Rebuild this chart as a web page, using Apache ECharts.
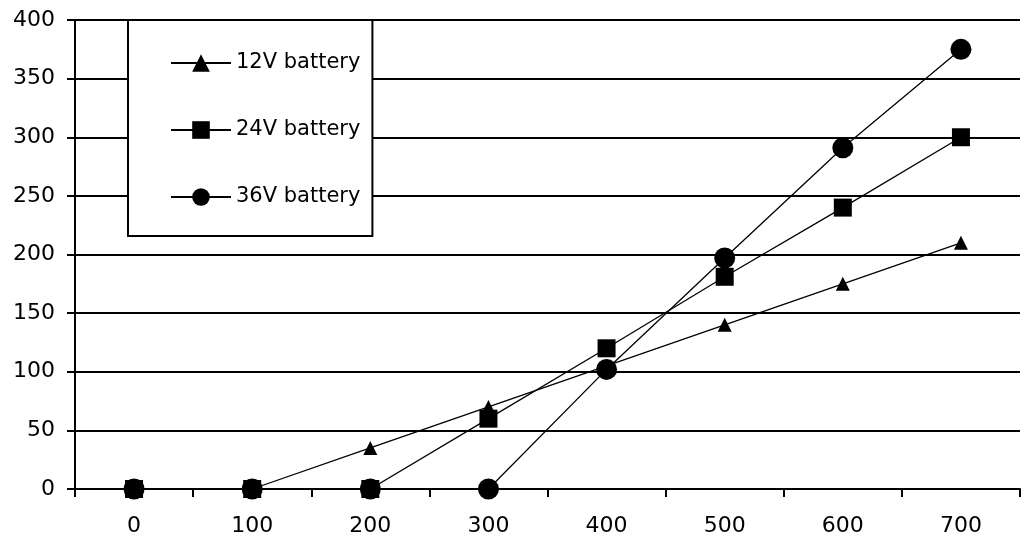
<!DOCTYPE html>
<html>
<head>
<meta charset="utf-8">
<script src="https://cdn.jsdelivr.net/npm/echarts@6/dist/echarts.min.js"></script>
<style>
  html, body { margin: 0; padding: 0; background: #fff; }
  #chart { width: 1030px; height: 539px; }
</style>
</head>
<body>
<div id="chart"></div>
<script>
// x categories
var categories = ["0", "100", "200", "300", "400", "500", "600", "700"];
// series values
var v12 = [0, 0, 35, 70, 105, 140, 175, 210];
var v24 = [0, 0, 0, 60, 120, 181, 240, 300];
var v36 = [0, 0, 0, 0, 102, 197, 291, 375];

var font = "DejaVu Sans";

var chart = echarts.init(document.getElementById("chart"));

function line(name, data, symbol, size) {
  return {
    name: name,
    type: "line",
    data: data,
    symbol: symbol,
    symbolSize: size,
    showAllSymbol: true,
    animation: false,
    itemStyle: { color: "#000" },
    lineStyle: { color: "#000", width: 1.3 }
  };
}

chart.setOption({
  backgroundColor: "#fff",
  animation: false,
  grid: { left: 75, right: 10, top: 20, bottom: 50 },
  legend: {
    orient: "vertical",
    left: 128,
    top: 20,
    padding: [32, 12, 28, 42],
    itemGap: 45,
    itemWidth: 60,
    itemHeight: 22,
    backgroundColor: "#fff",
    borderColor: "#000",
    borderWidth: 2,
    borderRadius: 0,
    textStyle: { fontFamily: font, fontSize: 21, color: "#000", lineHeight: 22 },
    data: ["12V battery", "24V battery", "36V battery"]
  },
  xAxis: {
    type: "category",
    data: categories,
    boundaryGap: true,
    axisLine: { lineStyle: { color: "#000", width: 2 } },
    axisTick: { show: true, length: 8, lineStyle: { color: "#000", width: 2 } },
    axisLabel: { color: "#000", fontFamily: font, fontSize: 22, margin: 26 },
    splitLine: { show: false }
  },
  yAxis: {
    type: "value",
    min: 0,
    max: 400,
    interval: 50,
    axisLine: { show: true, lineStyle: { color: "#000", width: 2 } },
    axisTick: { show: true, length: 8, lineStyle: { color: "#000", width: 2 } },
    axisLabel: { color: "#000", fontFamily: font, fontSize: 22, margin: 20 },
    splitLine: { show: true, lineStyle: { color: "#000", width: 2 } }
  },
  series: [
    line("12V battery", v12, "triangle", 14),
    line("24V battery", v24, "rect", 18),
    line("36V battery", v36, "circle", 21)
  ]
});
</script>
</body>
</html>
